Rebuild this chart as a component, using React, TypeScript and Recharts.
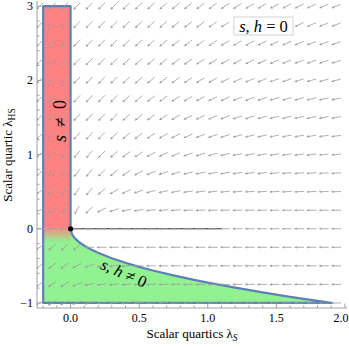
import { ComposedChart, XAxis, YAxis, Area, Line, Scatter } from 'recharts';

// axis ticks (major + minor)
const xTicks = [-0.2, -0.1, 0, 0.1, 0.2, 0.3, 0.4, 0.5, 0.6, 0.7, 0.8, 0.9, 1, 1.1, 1.2, 1.3, 1.4, 1.5, 1.6, 1.7, 1.8, 1.9, 2];
const yTicks = [-1, -0.8, -0.6, -0.4, -0.2, 0, 0.2, 0.4, 0.6, 0.8, 1, 1.2, 1.4, 1.6, 1.8, 2, 2.2, 2.4, 2.6, 2.8, 3];
const xDomain = [-0.245, 2.015];
const yDomain = [-1.068, 3.07];

// lower edge of the "s,h != 0" region
const boundaryS = [0, 0.01, 0.03, 0.06, 0.1, 0.15, 0.2, 0.3, 0.4, 0.5, 0.6, 0.75, 0.9, 1.0, 1.2, 1.4, 1.6, 1.8, 1.9];
const boundaryHS = [0, -0.073, -0.126, -0.178, -0.229, -0.281, -0.324, -0.397, -0.459, -0.513, -0.562, -0.628, -0.688, -0.725, -0.794, -0.858, -0.917, -0.973, -1.0];

// "s != 0" strip and floor
const stripS = [-0.2, 0];
const stripHS = [3];
const floorHS = [-1];
const fadeHS = [-0.18];

// black flow line along lambda_HS = 0
const flowS = [0, 1.1];
const flowHS = [0, 0];

// vector field: columns, rows, and arrow angle (deg below horizontal, pointing left)
const fieldS = [-0.225, -0.135, -0.045, 0.045, 0.135, 0.225, 0.315, 0.405, 0.495, 0.585, 0.675, 0.765, 0.855, 0.945, 1.035, 1.125, 1.215, 1.305, 1.395, 1.485, 1.575, 1.665, 1.755, 1.845, 1.935];
const fieldHS = [3, 2.75, 2.5, 2.25, 2, 1.75, 1.5, 1.25, 1, 0.75, 0.5, 0.25, 0, -0.25, -0.5, -0.75, -1];
const fieldAngle = [
  [44, 44, 45, 45, 45, 45, 45, 44, 43, 42, 41, 40, 39, 37, 36, 35, 33, 32, 30, 29, 28, 26, 25, 24, 23],
  [44, 45, 45, 45, 45, 45, 45, 44, 43, 42, 41, 39, 38, 36, 35, 33, 32, 30, 29, 27, 26, 25, 23, 22, 21],
  [44, 45, 45, 46, 46, 45, 45, 44, 43, 41, 40, 38, 37, 35, 33, 31, 30, 28, 27, 25, 24, 22, 21, 20, 19],
  [44, 45, 46, 46, 46, 45, 45, 44, 42, 41, 39, 37, 35, 33, 31, 29, 28, 26, 24, 23, 21, 20, 19, 18, 17],
  [44, 45, 46, 46, 46, 46, 45, 43, 42, 39, 37, 35, 33, 31, 29, 27, 25, 23, 22, 20, 19, 18, 17, 16, 15],
  [44, 45, 47, 47, 47, 46, 45, 43, 41, 38, 36, 33, 31, 28, 26, 24, 22, 21, 19, 18, 16, 15, 14, 13, 12],
  [44, 45, 47, 47, 47, 46, 44, 42, 39, 36, 33, 30, 28, 25, 23, 21, 19, 18, 16, 15, 14, 13, 12, 11, 10],
  [43, 46, 48, 48, 48, 46, 43, 40, 37, 33, 30, 27, 24, 21, 19, 17, 15, 14, 13, 12, 11, 10, 9, 8, 8],
  [42, 46, 49, 49, 49, 45, 42, 37, 33, 29, 25, 22, 19, 17, 15, 13, 12, 11, 10, 9, 8, 7, 7, 6, 6],
  [40, 46, 51, 50, 50, 44, 38, 33, 27, 23, 19, 16, 14, 12, 10, 9, 8, 7, 7, 6, 5, 5, 5, 4, 4],
  [35, 46, 54, 55, 50, 40, 31, 24, 18, 15, 12, 10, 8, 7, 6, 5, 5, 4, 4, 3, 3, 3, 3, 2, 2],
  [21, 39, 60, 61, 44, 27, 17, 11, 8, 6, 5, 4, 3, 3, 3, 2, 2, 2, 2, 2, 1, 1, 1, 1, 1],
  [0, 0, 0, 0, 0, 0, 0, 0, 0, 0, 0, 0, 0, 0, 0, 0, 0, 0, 0, 0, 0, 0, 0, 0, 0],
  [35, 40, 45, 40, 0, 0, 0, 0, 0, 0, 0, 0, 0, 0, 0, 0, 0, 0, 0, 0, 0, 0, 0, 0, 0],
  [40, 40, 35, 28, 20, 14, 10, 6, 0, 0, 0, 0, 0, 0, 0, 0, 0, 0, 0, 0, 0, 0, 0, 0, 0],
  [35, 35, 30, 20, 12, 8, 6, 5, 4, 3, 2, 2, 1, 1, 1, 0, 0, 0, 0, 0, 0, 0, 0, 0, 0],
  [30, 30, 25, 18, 12, 8, 6, 5, 4, 3, 3, 2, 2, 2, 1, 1, 1, 1, 1, 1, 1, 1, 0, 0, 0],
];

const FRAME = '#a0a0a0';
const BLUE = '#5e81b5';
const RED = '#ff8282';
const GREEN = '#92f292';
const ARROW = '#9c9c9c';
const SERIF = '"Liberation Serif", "Times New Roman", serif';

const curvePts = boundaryS.map((s, i) => ({ x: s, y: boundaryHS[i] }));

const greenData = [
  { x: stripS[0], r: [floorHS[0], 0] },
  ...curvePts.map(p => ({ x: p.x, r: [floorHS[0], p.y] })),
];

const redData = stripS.map(s => ({ x: s, r: [fadeHS[0], stripHS[0]] }));

const outline = [
  { x: stripS[1], y: 0 },
  { x: stripS[1], y: stripHS[0] },
  { x: stripS[0], y: stripHS[0] },
  { x: stripS[0], y: floorHS[0] },
  ...curvePts.slice().reverse(),
];

const flowData = flowS.map((s, i) => ({ x: s, y: flowHS[i] }));
const originData = [{ x: 0, y: 0 }];

const arrows = fieldHS.flatMap((h, r) => fieldS.map((s, c) => ({ x: s, y: h, a: fieldAngle[r][c] })));

function ArrowShape(props: any) {
  const { cx, cy, payload } = props;
  if (cx == null || cy == null) return null;
  const t = (payload.a * Math.PI) / 180;
  const dx = -Math.cos(t);
  const dy = Math.sin(t);
  const half = 5;
  const x1 = cx - dx * half, y1 = cy - dy * half;
  const x2 = cx + dx * half, y2 = cy + dy * half;
  const bx = x2 - dx * 2.8, by = y2 - dy * 2.8;
  const px = -dy * 1.3, py = dx * 1.3;
  return (
    <g>
      <line x1={x1} y1={y1} x2={bx} y2={by} stroke={ARROW} strokeWidth={0.8} />
      <polygon points={`${x2},${y2} ${bx + px},${by + py} ${bx - px},${by - py}`} fill={ARROW} />
    </g>
  );
}

function DotShape(props: any) {
  const { cx, cy } = props;
  return <circle cx={cx} cy={cy} r={2.6} fill="#000" />;
}

const isMajorX = (v: number) => Math.abs(v * 2 - Math.round(v * 2)) < 1e-6;
const isMajorY = (v: number) => Math.abs(v - Math.round(v)) < 1e-6;

function BottomTick(props: any) {
  const { x, y, payload } = props;
  const v = payload.value;
  const major = isMajorX(v);
  const last = v === xTicks[xTicks.length - 1];
  return (
    <g>
      <line x1={x} x2={x} y1={y} y2={y - (major ? 4.5 : 2.5)} stroke={FRAME} />
      {major && (
        <text x={last ? x + 3.5 : x} y={y + 14} textAnchor={last ? 'end' : 'middle'} fontFamily={SERIF} fontSize={12} fill="#000">
          {v.toFixed(1)}
        </text>
      )}
    </g>
  );
}

function TopTick(props: any) {
  const { x, y, payload } = props;
  const major = isMajorX(payload.value);
  return <line x1={x} x2={x} y1={y} y2={y + (major ? 4.5 : 2.5)} stroke={FRAME} />;
}

function LeftTick(props: any) {
  const { x, y, payload } = props;
  const v = payload.value;
  const major = isMajorY(v);
  return (
    <g>
      <line x1={x} x2={x + (major ? 4.5 : 2.5)} y1={y} y2={y} stroke={FRAME} />
      {major && (
        <text x={x - 4} y={y + 4} textAnchor="end" fontFamily={SERIF} fontSize={12} fill="#000">
          {v < 0 ? '\u2212' + Math.abs(v) : String(v)}
        </text>
      )}
    </g>
  );
}

function RightTick(props: any) {
  const { x, y, payload } = props;
  const major = isMajorY(payload.value);
  return <line x1={x} x2={x - (major ? 4.5 : 2.5)} y1={y} y2={y} stroke={FRAME} />;
}

export default function App() {
  return (
    <div style={{ position: 'absolute', left: 0, top: 0, width: 349, height: 347, background: '#fff' }}>
      <ComposedChart width={349} height={347} margin={{ top: 1, right: 2, bottom: 0, left: 0 }}>
        <defs>
          <linearGradient id="redFade" x1="0" y1="0" x2="0" y2="1">
            <stop offset="0" stopColor={RED} stopOpacity={1} />
            <stop offset="0.935" stopColor={RED} stopOpacity={1} />
            <stop offset="1" stopColor={RED} stopOpacity={0} />
          </linearGradient>
        </defs>
        <XAxis dataKey="x" type="number" domain={xDomain} ticks={xTicks} interval={0} allowDataOverflow
          height={39} tickSize={0} tickMargin={0} tickLine={false} axisLine={{ stroke: FRAME }} tick={<BottomTick />} />
        <XAxis xAxisId="top" orientation="top" dataKey="x" type="number" domain={xDomain} ticks={xTicks} interval={0} allowDataOverflow
          height={0} tickSize={0} tickMargin={0} tickLine={false} axisLine={{ stroke: FRAME }} tick={<TopTick />} />
        <YAxis type="number" domain={yDomain} ticks={yTicks} interval={0} allowDataOverflow
          width={37} tickSize={0} tickMargin={0} tickLine={false} axisLine={{ stroke: FRAME }} tick={<LeftTick />} />
        <YAxis yAxisId="right" orientation="right" type="number" domain={yDomain} ticks={yTicks} interval={0} allowDataOverflow
          width={0} tickSize={0} tickMargin={0} tickLine={false} axisLine={{ stroke: FRAME }} tick={<RightTick />} />

        <Area data={greenData} dataKey="r" type="linear" fill={GREEN} fillOpacity={1} stroke="none" isAnimationActive={false} />
        <Area data={redData} dataKey="r" type="linear" fill="url(#redFade)" fillOpacity={1} stroke="none" isAnimationActive={false} />
        <Scatter data={arrows} dataKey="y" shape={<ArrowShape />} isAnimationActive={false} />
        <Line data={flowData} dataKey="y" type="linear" stroke="#222" strokeWidth={1.1} dot={false} isAnimationActive={false} />
        <Line data={outline} dataKey="y" type="linear" stroke={BLUE} strokeWidth={2.2} strokeLinejoin="round" dot={false} isAnimationActive={false} />
        <Scatter data={originData} dataKey="y" shape={<DotShape />} isAnimationActive={false} />
      </ComposedChart>
      <svg width={349} height={347} style={{ position: 'absolute', left: 0, top: 0, pointerEvents: 'none' }} fontFamily={SERIF}>
        <rect x={234} y={17} width={59} height={18} fill="#fff" stroke="#c8c8c8" strokeWidth={0.8} />
        <text x={263.5} y={31.5} textAnchor="middle" fontSize={16.5}>
          <tspan fontStyle="italic">s</tspan>, <tspan fontStyle="italic">h</tspan> = 0
        </text>
        <text x={0} y={0} textAnchor="middle" dominantBaseline="central" fontSize={18} transform="translate(60 121) rotate(-90)">
          <tspan fontStyle="italic">s</tspan> {'\u2009'}≠ {'\u2009'}0
        </text>
        <text x={0} y={0} textAnchor="middle" dominantBaseline="central" fontSize={16.5} transform="translate(124 273) rotate(24)">
          <tspan fontStyle="italic">s</tspan>, <tspan fontStyle="italic">h</tspan> ≠ 0
        </text>
        <text x={192} y={338} textAnchor="middle" fontSize={13}>
          Scalar quartics λ<tspan fontStyle="italic" fontSize={9.5} dy={3}>S</tspan>
        </text>
        <text x={0} y={0} textAnchor="middle" fontSize={13} transform="translate(12 155) rotate(-90)">
          Scalar quartic λ<tspan fontSize={9.5} dy={3}>HS</tspan>
        </text>
      </svg>
    </div>
  );
}
